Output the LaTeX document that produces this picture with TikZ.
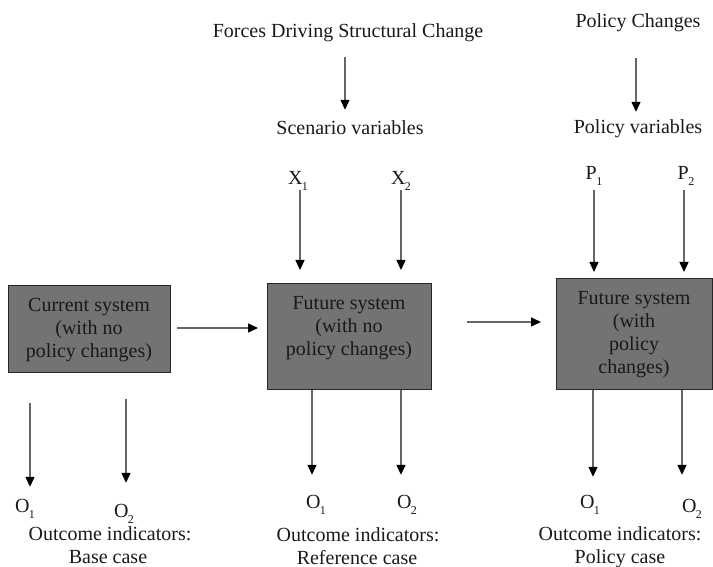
\documentclass[tikz,border=0pt]{standalone}
\usepackage{fontspec}
\setmainfont{Liberation Serif}
\usetikzlibrary{arrows.meta}
\definecolor{boxgray}{RGB}{115,115,115}
\newcommand\sbs[1]{\kern-0.5pt\raisebox{-0.3em}{\fontsize{12}{12}\selectfont #1}}
\begin{document}
\begin{tikzpicture}[x=1pt,y=-1pt,
  txt/.style={font=\fontsize{20}{23}\selectfont, text=black!90, inner sep=0pt, anchor=base, text height=14pt, text depth=5pt},
  btxt/.style={font=\fontsize{20}{23}\selectfont, text=black!90, inner sep=0pt, anchor=north, align=center},
  box/.style={draw=black!85, line width=1.4pt, fill=boxgray, inner sep=0pt, anchor=north west},
  arr/.style={draw=black!60, line width=1.4pt, -{Triangle[length=10pt,width=9pt,color=black]}}]
\useasboundingbox (0,0) rectangle (713,567);

% boxes
\node[box, minimum width=162pt, minimum height=87pt] (b1) at (8,285) {};
\node[box, minimum width=164pt, minimum height=106pt] (b2) at (267,283) {};
\node[box, minimum width=156pt, minimum height=111pt] (b3) at (556,278) {};
\node[btxt] (t1) at (89,298) {Current system\\(with no\\policy changes)};
\node[btxt] (t2) at (349,296) {Future system\\(with no\\policy changes)};
\node[btxt] (t3) at (634,291) {Future system\\(with\\policy\\changes)};

% top texts
\node[txt] (forces) at (348,38) {Forces Driving Structural Change};
\node[txt] (scen) at (350,135) {Scenario variables};
\node[txt] (x1) at (298,185) {X\sbs{1}};
\node[txt] (x2) at (401,185) {X\sbs{2}};
\node[txt] (polc) at (638,28) {Policy Changes};
\node[txt] (polv) at (638,134) {Policy variables};
\node[txt] (p1) at (594,180) {P\sbs{1}};
\node[txt] (p2) at (686,180) {P\sbs{2}};

% bottom texts
\node[txt] (o1a) at (25,512) {O\sbs{1}};
\node[txt] (o2a) at (124,517) {O\sbs{2}};
\node[txt] (oia) at (110,540) {Outcome indicators:};
\node[txt] (basec) at (108,563) {Base case};
\node[txt] (o1b) at (316,508) {O\sbs{1}};
\node[txt] (o2b) at (407,508) {O\sbs{2}};
\node[txt] (oib) at (358,541) {Outcome indicators:};
\node[txt] (refc) at (357,564) {Reference case};
\node[txt] (o1c) at (590,508) {O\sbs{1}};
\node[txt] (o2c) at (692,512) {O\sbs{2}};
\node[txt] (oic) at (620,540) {Outcome indicators:};
\node[txt] (polcase) at (620,563) {Policy case};

% arrows
\draw[arr, shorten <=14pt, shorten >=11pt] (forces.south -| 345,0) -- (scen.north -| 345,0);
\draw[arr, shorten <=25pt, shorten >=8pt] (polc.south -| 636,0) -- (polv.north -| 636,0);
\draw[arr, shorten >=13pt] (x1.south -| 300,0) -- (b2.north -| 300,0);
\draw[arr, shorten >=13pt] (x2.south -| 401,0) -- (b2.north -| 401,0);
\draw[arr, shorten <=5pt, shorten >=6pt] (p1.south -| 594,0) -- (b3.north -| 594,0);
\draw[arr, shorten <=5pt, shorten >=6pt] (p2.south -| 684,0) -- (b3.north -| 684,0);
\draw[arr, shorten <=6pt, shorten >=9pt] (b1.east |- 0,328) -- (b2.west |- 0,328);
\draw[arr, shorten <=35pt, shorten >=15pt] (b2.east |- 0,322) -- (b3.west |- 0,322);
\draw[arr, shorten <=30pt, shorten >=11pt] (b1.south -| 30,0) -- (o1a.north -| 30,0);
\draw[arr, shorten <=26pt, shorten >=20pt] (b1.south -| 126,0) -- (o2a.north -| 126,0);
\draw[arr, shorten >=19pt] (b2.south -| 312,0) -- (o1b.north -| 312,0);
\draw[arr, shorten >=19pt] (b2.south -| 401,0) -- (o2b.north -| 401,0);
\draw[arr, shorten >=17pt] (b3.south -| 593,0) -- (o1c.north -| 593,0);
\draw[arr, shorten >=23pt] (b3.south -| 682,0) -- (o2c.north -| 682,0);
\end{tikzpicture}
\end{document}
